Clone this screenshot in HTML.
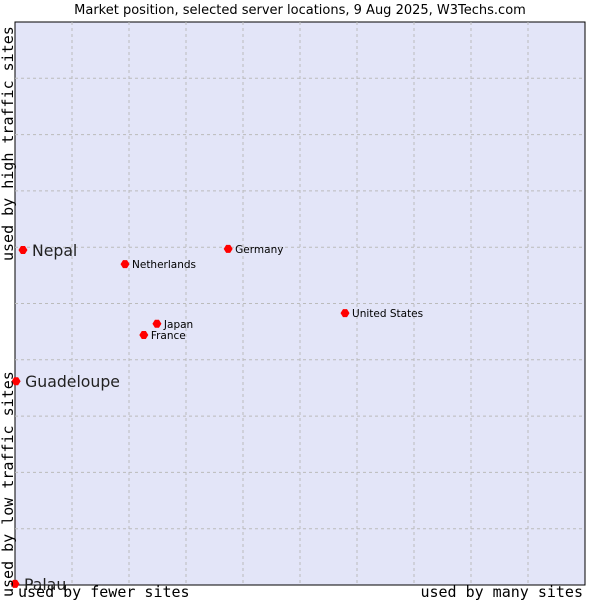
<!DOCTYPE html>
<html><head><meta charset="utf-8"><style>
body{margin:0;background:#fff}
svg{display:block}
</style></head><body>
<svg id="chart" width="600" height="600" xmlns="http://www.w3.org/2000/svg">
<text x="300" y="14" text-anchor="middle" font-family="DejaVu Sans, sans-serif" font-size="13" fill="#000">Market position, selected server locations, 9 Aug 2025, W3Techs.com</text>
<rect x="15" y="22" width="570" height="563" fill="#e3e5f8" stroke="#000" stroke-width="1"/>
<g id="grid"></g>
<g id="points"></g>
<text transform="translate(13,261) rotate(-90)" font-family="DejaVu Sans Mono, monospace" font-size="15" fill="#000">used by high traffic sites</text>
<text transform="translate(13,597) rotate(-90)" font-family="DejaVu Sans Mono, monospace" font-size="15" fill="#000">used by low traffic sites</text>
<text x="18" y="597" font-family="DejaVu Sans Mono, monospace" font-size="15" fill="#000">used by fewer sites</text>
<text x="583" y="597" text-anchor="end" font-family="DejaVu Sans Mono, monospace" font-size="15" fill="#000">used by many sites</text>
</svg>
<script>
const names = ["Nepal","Netherlands","Germany","United States","Japan","France","Guadeloupe","Palau"];
const xVals = [1.4,19.3,37.4,57.9,24.9,22.6,0.2,0];
const yVals = [59.5,57.0,59.7,48.3,46.4,44.4,36.2,0.2];
const bigLabel = [true,false,false,false,false,false,true,true];
const NS="http://www.w3.org/2000/svg";
const L=15,T=22,W=570,H=563;
function sx(v){return L+v/100*W;}
function sy(v){return T+H-v/100*H;}
const grid=document.getElementById('grid');
for(let i=1;i<10;i++){
  const v=document.createElementNS(NS,'line');
  
  
  v.setAttribute('x1',sx(i*10));v.setAttribute('x2',sx(i*10));v.setAttribute('y1',T);v.setAttribute('y2',T+H);
  v.setAttribute('stroke','#bbbbbb');v.setAttribute('stroke-dasharray','3,3');
  grid.appendChild(v);
  const h=document.createElementNS(NS,'line');
  
  
  h.setAttribute('y1',sy(i*10));h.setAttribute('y2',sy(i*10));h.setAttribute('x1',L);h.setAttribute('x2',L+W);
  h.setAttribute('stroke','#bbbbbb');h.setAttribute('stroke-dasharray','3,3');
  grid.appendChild(h);
}
const pts=document.getElementById('points');
names.forEach((n,i)=>{
  const x=sx(xVals[i]),y=sy(yVals[i]);
  const d=document.createElementNS(NS,'path');
  
  
  d.setAttribute('d',`M${x-4.5},${y} L${x-2},${y-4} L${x+2},${y-4} L${x+4.5},${y} L${x+2},${y+4} L${x-2},${y+4} Z`);
  d.setAttribute('fill','#f00');
  pts.appendChild(d);
  const t=document.createElementNS(NS,'text');
  
  
  const big=bigLabel[i];
  t.setAttribute('x',x+(big?9:7));t.setAttribute('y',y+(big?6:4));
  t.setAttribute('font-family','DejaVu Sans, sans-serif');
  t.setAttribute('font-size',big?15.7:10.5);
  t.setAttribute('fill',big?'#222':'#000');
  t.textContent=n;
  pts.appendChild(t);
});
</script>
</body></html>
